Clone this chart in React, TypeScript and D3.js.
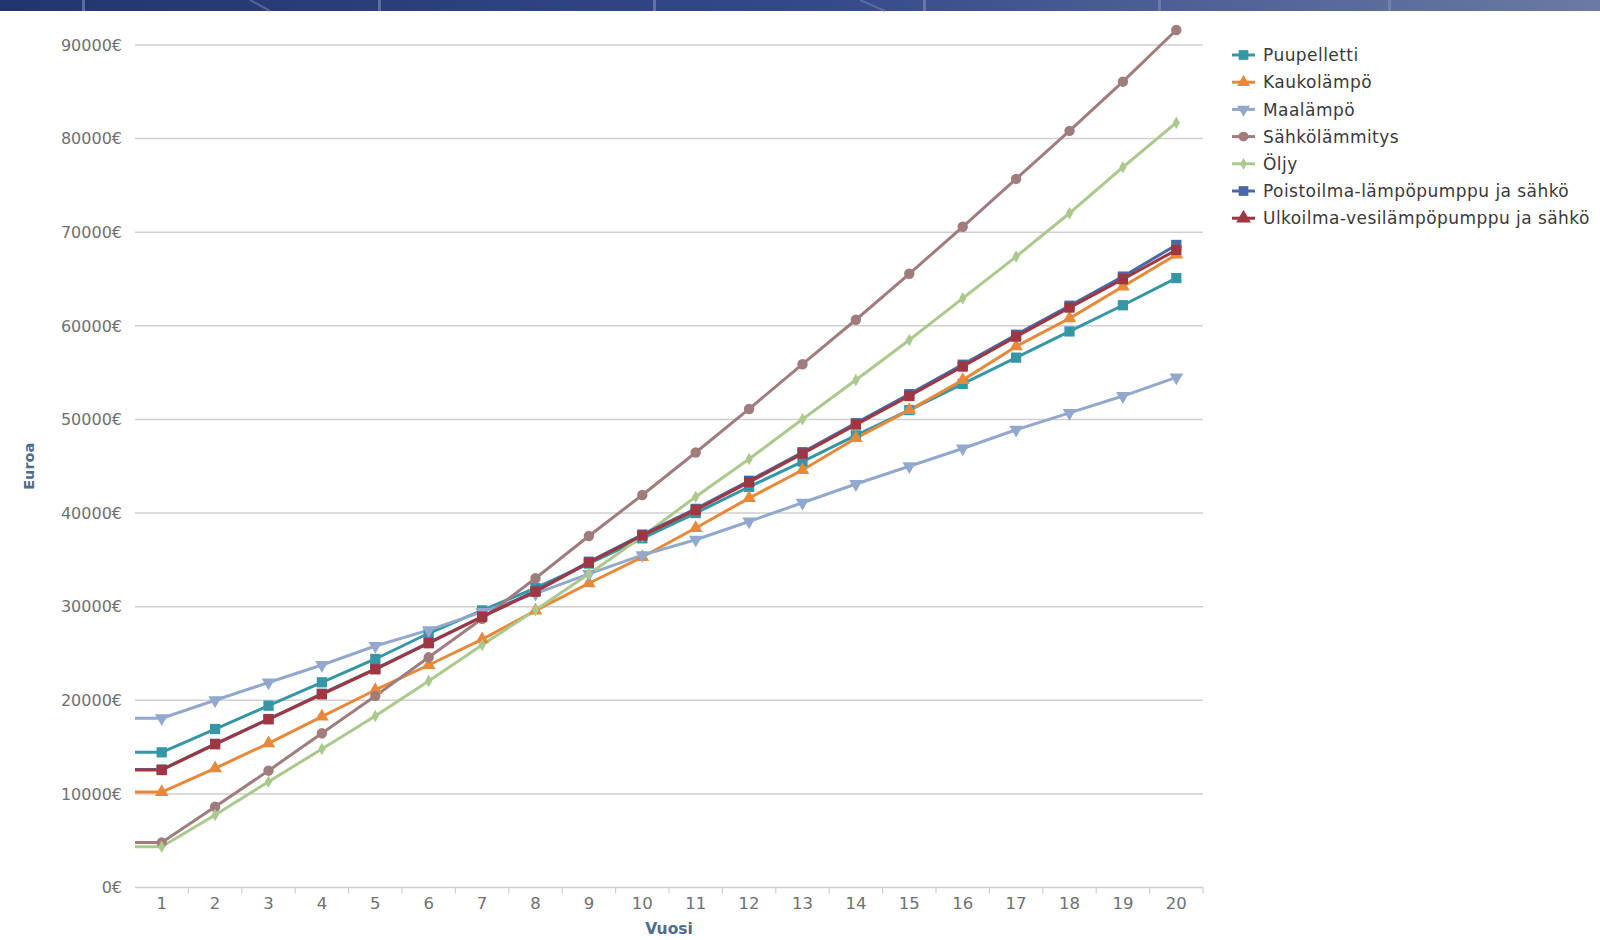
import React from "react";
import * as d3 from "d3";

const years = d3.range(1, 21).map(String);
const yTicks = [0, 10000, 20000, 30000, 40000, 50000, 60000, 70000, 80000, 90000];

const puupelletti = [14440, 16930, 19420, 21920, 24410, 27160, 29600, 32000, 34600, 37300, 40000, 42800, 45500, 48300, 51000, 53800, 56600, 59400, 62200, 65100];
const kaukolampo = [10200, 12730, 15400, 18250, 21100, 23770, 26500, 29570, 32500, 35300, 38400, 41600, 44600, 48000, 51000, 54200, 57800, 60800, 64200, 67600];
const maalampo = [18080, 20000, 21900, 23770, 25800, 27500, 29450, 31400, 33500, 35500, 37150, 39100, 41100, 43100, 45000, 46900, 48900, 50700, 52500, 54500];
const sahko = [4800, 8630, 12480, 16470, 20460, 24590, 28700, 33030, 37550, 41930, 46470, 51120, 55900, 60650, 65560, 70580, 75700, 80830, 86080, 91600];
const oljy = [4360, 7750, 11300, 14800, 18320, 22060, 25900, 29650, 33500, 37500, 41750, 45780, 50020, 54220, 58490, 62940, 67400, 72030, 76940, 81700];
const poistoilma = [12600, 15350, 18000, 20700, 23350, 26150, 28950, 31700, 34800, 37700, 40450, 43450, 46500, 49600, 52700, 55850, 59050, 62150, 65260, 68640];
const ulkoilma = [12550, 15300, 17970, 20640, 23310, 26090, 28900, 31600, 34700, 37600, 40330, 43300, 46350, 49450, 52500, 55650, 58850, 61950, 64980, 68100];

type Series = { name: string; values: number[]; color: string; marker: string; legendMarker: string; size: number };

const series: Series[] = [
  { name: "Puupelletti", values: puupelletti, color: "#3596a6", marker: "square", legendMarker: "square", size: 105 },
  { name: "Kaukolämpö", values: kaukolampo, color: "#e8893a", marker: "triUp", legendMarker: "triUp", size: 80 },
  { name: "Maalämpö", values: maalampo, color: "#92a8cc", marker: "triDown", legendMarker: "triDown", size: 80 },
  { name: "Sähkölämmitys", values: sahko, color: "#a07c7c", marker: "circle", legendMarker: "circle", size: 85 },
  { name: "Öljy", values: oljy, color: "#abc98c", marker: "diamond", legendMarker: "diamond", size: 45 },
  { name: "Poistoilma-lämpöpumppu ja sähkö", values: poistoilma, color: "#4a68a6", marker: "square", legendMarker: "square", size: 105 },
  { name: "Ulkoilma-vesilämpöpumppu ja sähkö", values: ulkoilma, color: "#a0363f", marker: "square", legendMarker: "triUp", size: 105 },
];

const W = 1600;
const H = 940;
const plotLeft = 135;
const plotRight = 1203;
const plotTop = 45;
const plotBottom = 887.5;

function symbolPath(kind: string, size: number): { d: string; rot: number } {
  switch (kind) {
    case "square":
      return { d: d3.symbol(d3.symbolSquare, size)() || "", rot: 0 };
    case "triUp":
      return { d: d3.symbol(d3.symbolTriangle, size)() || "", rot: 0 };
    case "triDown":
      return { d: d3.symbol(d3.symbolTriangle, size)() || "", rot: 180 };
    case "circle":
      return { d: d3.symbol(d3.symbolCircle, size)() || "", rot: 0 };
    case "diamond":
      return { d: d3.symbol(d3.symbolDiamond, size)() || "", rot: 0 };
    default:
      return { d: "", rot: 0 };
  }
}

export default function App() {
  const x = d3.scaleBand<string>().domain(years).range([plotLeft, plotRight]).padding(0);
  const y = d3.scaleLinear().domain([0, 90000]).range([plotBottom, plotTop]);
  const cx = (i: number) => (x(years[i]) as number) + x.bandwidth() / 2;

  const line = d3
    .line<[number, number]>()
    .x((d) => d[0])
    .y((d) => d[1]);

  const fontTick = "'DejaVu Sans', Verdana, sans-serif";
  const headerDividers = [82, 378, 653, 923, 1158, 1388];

  return (
    <svg
      width={W}
      height={H}
      style={{ position: "absolute", left: 0, top: 0, background: "#fff" }}
      xmlns="http://www.w3.org/2000/svg"
    >
      <defs>
        <linearGradient id="hdr" x1="0" x2="1" y1="0" y2="0">
          <stop offset="0" stopColor="#23356e" />
          <stop offset="0.5" stopColor="#34488a" />
          <stop offset="1" stopColor="#6a7aa2" />
        </linearGradient>
      </defs>
      <rect x={0} y={0} width={W} height={11} fill="url(#hdr)" />
      {headerDividers.map((hx, i) => (
        <rect key={i} x={hx} y={0} width={3} height={11} fill="#8090b8" opacity={0.6} />
      ))}
      <line x1={250} y1={0} x2={270} y2={11} stroke="#7080b0" strokeWidth={2} opacity={0.6} />
      <line x1={860} y1={0} x2={885} y2={11} stroke="#7080b0" strokeWidth={2} opacity={0.6} />

      {/* gridlines */}
      {yTicks.map((t) => (
        <line key={t} x1={plotLeft} x2={plotRight} y1={y(t)} y2={y(t)} stroke="#cfcfcf" strokeWidth={1.5} />
      ))}
      {/* x ticks */}
      {years.map((yr) => {
        const bx = (x(yr) as number) + x.bandwidth();
        return <line key={yr} x1={bx} x2={bx} y1={plotBottom} y2={plotBottom + 6} stroke="#cfcfcf" strokeWidth={1.2} />;
      })}
      {/* y labels */}
      {yTicks.map((t) => (
        <text
          key={t}
          x={122}
          y={y(t)}
          dy="0.36em"
          textAnchor="end"
          fontFamily={fontTick}
          fontSize={16}
          fill="#707070"
        >
          {`${t}€`}
        </text>
      ))}
      {/* x labels */}
      {years.map((yr, i) => (
        <text key={yr} x={cx(i)} y={903} dy="0.36em" textAnchor="middle" fontFamily={fontTick} fontSize={16.5} fill="#707070">
          {yr}
        </text>
      ))}
      {/* axis titles */}
      <text x={(plotLeft + plotRight) / 2} y={928} dy="0.36em" textAnchor="middle" fontFamily={fontTick} fontWeight="bold" fontSize={15.5} fill="#4f6b8e">
        Vuosi
      </text>
      <text
        transform={`translate(29,${(plotTop + plotBottom) / 2}) rotate(-90)`}
        dy="0.36em"
        textAnchor="middle"
        fontFamily={fontTick}
        fontWeight="bold"
        fontSize={14.5}
        fill="#4f6b8e"
      >
        Euroa
      </text>

      {/* series lines */}
      {series.map((s) => {
        const pts: [number, number][] = [[plotLeft, y(s.values[0])], ...s.values.map((v, i) => [cx(i), y(v)] as [number, number])];
        return (
          <path key={s.name} d={line(pts) || ""} fill="none" stroke={s.color} strokeWidth={3} strokeLinejoin="round" />
        );
      })}
      {/* markers */}
      {series.map((s) => {
        const sym = symbolPath(s.marker, s.size);
        return (
          <g key={s.name + "-m"}>
            {s.values.map((v, i) => (
              <path key={i} d={sym.d} transform={`translate(${cx(i)},${y(v)}) rotate(${sym.rot})`} fill={s.color} />
            ))}
          </g>
        );
      })}

      {/* legend */}
      {series.map((s, i) => {
        const ly = 55 + i * 27.2;
        const sym = symbolPath(s.legendMarker, s.size * 0.9);
        return (
          <g key={s.name + "-leg"}>
            <line x1={1232} x2={1255} y1={ly} y2={ly} stroke={s.color} strokeWidth={3} />
            <path d={sym.d} transform={`translate(1243.5,${ly}) rotate(${sym.rot})`} fill={s.color} />
            <text x={1263} y={ly} dy="0.36em" fontFamily={fontTick} fontSize={17} letterSpacing={0.45} fill="#3a3a3a">
              {s.name}
            </text>
          </g>
        );
      })}
    </svg>
  );
}
